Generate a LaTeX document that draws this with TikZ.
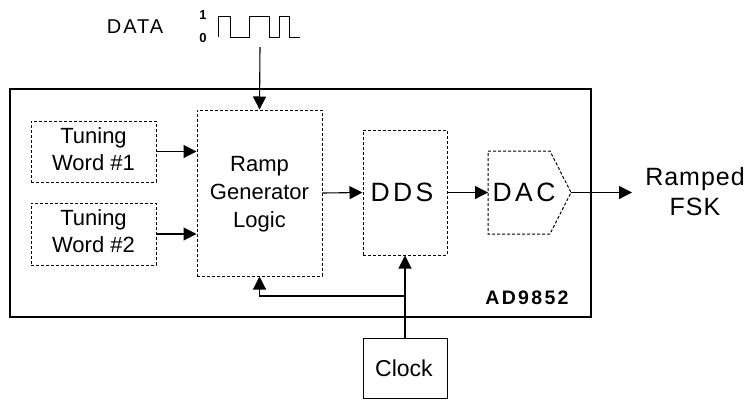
\documentclass[tikz,border=0pt]{standalone}
\usepackage{fontspec}
\setmainfont{Liberation Sans}
\newfontfamily\bigfont{Liberation Sans}[LetterSpace=13]
\newfontfamily\outfont{Liberation Sans}[LetterSpace=4]
\newfontfamily\datafont{Liberation Sans}[LetterSpace=10]
\newfontfamily\chipfont{Liberation Sans}[LetterSpace=12]
\usetikzlibrary{arrows.meta}
\tikzset{
  dbox/.style={draw, dashed, dash pattern=on 3pt off 2pt, line width=1pt, inner sep=0pt},
  sbox/.style={draw, line width=1pt, inner sep=0pt},
  conn/.style={line width=1.1pt, -{Triangle[length=13pt,width=13pt]}},
  lbl/.style={inner sep=0pt, align=center, anchor=base},
  boxtext/.style={lbl, font=\fontsize{22}{26.7}\selectfont},
}
\begin{document}
\begin{tikzpicture}[x=1pt,y=-1pt]
\useasboundingbox (0,0) rectangle (748,400);
% outer chip box
\draw[line width=1.5pt] (10,89) rectangle (591,317);
\node[lbl, font=\chipfont\bfseries\fontsize{19.5}{22}\selectfont] (chip) at (527,304) {AD9852};
% data label and waveform
\node[lbl, font=\datafont\fontsize{20}{22}\selectfont] (data) at (135,33.3) {DATA};
\node[inner sep=0pt, font=\bfseries\fontsize{13}{14}\selectfont] (one) at (203,15) {1};
\node[inner sep=0pt, font=\bfseries\fontsize{13}{14}\selectfont] (zero) at (203,38) {0};
\draw[line width=1pt] (218,37) -- (218,16) -- (230,16) -- (230,37) -- (249,37) -- (249,16) -- (269,16) -- (269,37) -- (279,37) -- (279,16) -- (289,16) -- (289,37) -- (300,37);
\coordinate (datain) at (260,47);
% boxes
\node[dbox, minimum width=125pt, minimum height=61pt] (tw1) at (93.5,151.5) {};
\node[boxtext] (tw1t) at (93.5,170) {Tuning\\Word \#1};
\node[dbox, minimum width=125pt, minimum height=62pt] (tw2) at (93.5,234) {};
\node[boxtext] (tw2t) at (93.5,252.5) {Tuning\\Word \#2};
\node[dbox, minimum width=125pt, minimum height=166pt] (ramp) at (259.5,193) {};
\node[lbl, font=\fontsize{22}{27.7}\selectfont] (rampt) at (259.5,227) {Ramp\\Generator\\Logic};
\node[dbox, minimum width=84pt, minimum height=125pt] (dds) at (405,192.5) {};
\node[lbl, font=\bigfont\fontsize{26.5}{30}\selectfont] (ddst) at (402,201) {DDS};
% DAC shape
\draw[dashed, dash pattern=on 3pt off 2pt, line width=1pt] (488,151) -- (550,151) -- (571,192.5) -- (550,234) -- (488,234) -- cycle;
\node[lbl, font=\bigfont\fontsize{26.5}{30}\selectfont] (dac) at (524,201) {DAC};
\coordinate (dacin) at (488,192.5);
\coordinate (dacout) at (571,192.5);
\coordinate (out) at (632,192.5);
\node[lbl, font=\outfont\fontsize{25}{30}\selectfont] (fsk) at (695,215) {Ramped\\FSK};
% clock
\node[sbox, minimum width=84pt, minimum height=60pt] (clock) at (405,368) {};
\node[lbl, font=\fontsize{23}{25}\selectfont] (clockt) at (404,376) {Clock};
\coordinate (fb) at (405,296);
% connectors
\draw[conn] (datain) -- (ramp.north);
\draw[conn] (tw1.east) -- (ramp.west |- tw1.east);
\draw[conn] (tw2.east) -- (ramp.west |- tw2.east);
\draw[conn] (ramp.east) -- (dds.west);
\draw[conn] (dds.east) -- (dacin);
\draw[conn] (dacout) -- (out);
\draw[conn] (clock.north) -- (dds.south);
\draw[conn] (fb) -| (ramp.south);
\end{tikzpicture}
\end{document}
